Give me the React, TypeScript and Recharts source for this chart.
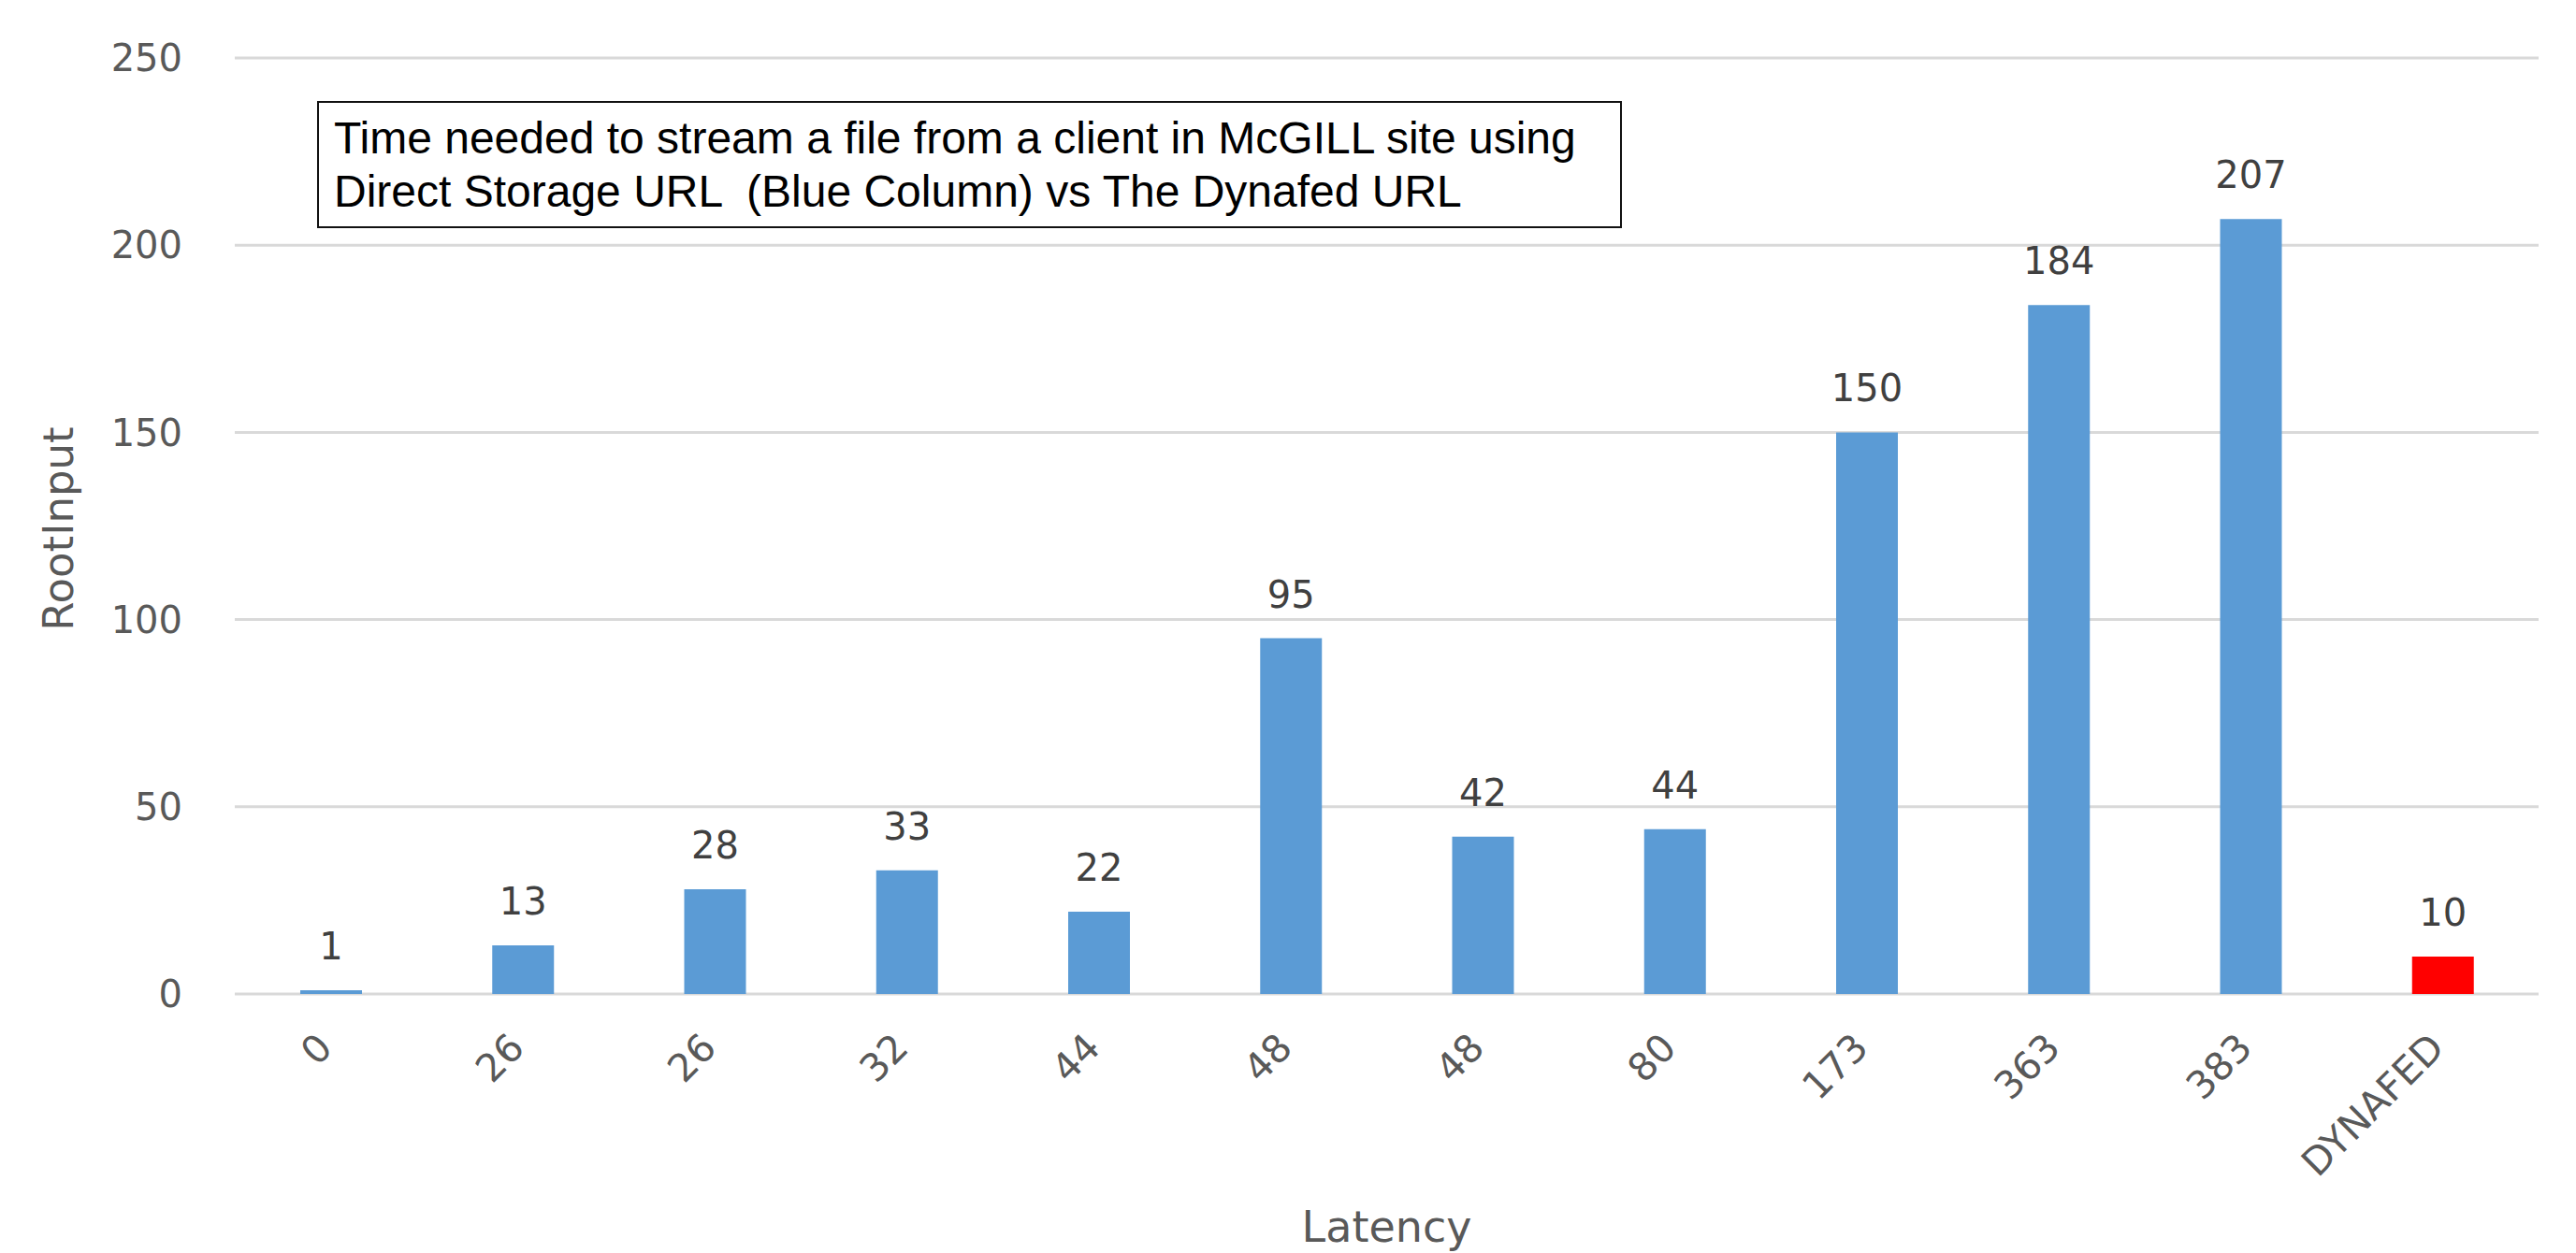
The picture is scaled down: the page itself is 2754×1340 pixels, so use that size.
import { BarChart, Bar, XAxis, YAxis, CartesianGrid, Cell, LabelList } from 'recharts';

// Latency categories (x axis) and the RootInput values measured for each
const LATENCIES = ['0', '26', '26', '32', '44', '48', '48', '80', '173', '363', '383', 'DYNAFED'];
const ROOT_INPUT = [1, 13, 28, 33, 22, 95, 42, 44, 150, 184, 207, 10];
const Y_TICKS = [0, 50, 100, 150, 200, 250];

const HIGHLIGHT = 'DYNAFED';
const TITLE_LINES = [
  'Time needed to stream a file from a client in McGILL site using',
  'Direct Storage URL  (Blue Column) vs The Dynafed URL',
];

const data = LATENCIES.map((latency, i) => ({ latency, value: ROOT_INPUT[i] }));

const FONT = '"DejaVu Sans", sans-serif';
const GREY = '#595959';
const BLUE = '#5B9BD5';
const RED = '#FF0000';

function LatencyTick({ x = 0, y = 0, payload }: { x?: number; y?: number; payload?: { value: string } }) {
  const ax = x - 6;
  const ay = y + 48;
  return (
    <text
      x={ax}
      y={ay}
      transform={`rotate(-45 ${ax} ${ay})`}
      textAnchor="end"
      dominantBaseline="central"
      fontFamily={FONT}
      fontSize={41}
      fill={GREY}
    >
      {payload?.value}
    </text>
  );
}

function XTitle({ viewBox }: { viewBox?: { x: number; y: number; width: number } }) {
  if (!viewBox) return null;
  return (
    <text x={viewBox.x + viewBox.width / 2} y={viewBox.y + 265} textAnchor="middle" fontFamily={FONT} fontSize={46} fill={GREY}>
      Latency
    </text>
  );
}

function YTitle({ viewBox }: { viewBox?: { x: number; y: number; height: number } }) {
  if (!viewBox) return null;
  const cx = viewBox.x + 78;
  const cy = viewBox.y + viewBox.height / 2 + 3;
  return (
    <text x={cx} y={cy} transform={`rotate(-90 ${cx} ${cy})`} textAnchor="middle" fontFamily={FONT} fontSize={45} fill={GREY}>
      RootInput
    </text>
  );
}

export default function App() {
  return (
    <div style={{ position: 'fixed', left: 0, top: 0, width: 2754, height: 1340, background: '#fff' }}>
      <BarChart width={2754} height={1340} data={data} margin={{ top: 62, right: 40, bottom: 0, left: 0 }}>
        <CartesianGrid vertical={false} stroke="#d9d9d9" strokeWidth={3} />
        <XAxis
          dataKey="latency"
          interval={0}
          height={277}
          axisLine={false}
          tickLine={false}
          tickSize={0}
          tick={<LatencyTick />}
          label={<XTitle />}
        />
        <YAxis
          type="number"
          domain={[0, 250]}
          ticks={Y_TICKS}
          width={251}
          axisLine={false}
          tickLine={false}
          tickSize={0}
          tickMargin={56}
          tick={{ fontFamily: FONT, fontSize: 40, fill: GREY }}
          label={<YTitle />}
        />
        <Bar dataKey="value" barSize={66} isAnimationActive={false}>
          {data.map((d, i) => (
            <Cell key={i} fill={d.latency === HIGHLIGHT ? RED : BLUE} />
          ))}
          <LabelList dataKey="value" position="top" offset={33} fontFamily={FONT} fontSize={40} fill="#404040" />
        </Bar>
      </BarChart>

      {/* annotation box over the chart */}
      <div
        style={{
          position: 'absolute',
          left: 339,
          top: 108,
          width: 1395,
          height: 136,
          boxSizing: 'border-box',
          border: '2px solid #111',
          background: '#fff',
          padding: '9px 0 0 16px',
          fontFamily: '"Liberation Sans", Arial, sans-serif',
          fontSize: 48,
          lineHeight: '57px',
          color: '#000',
          whiteSpace: 'pre',
        }}
      >
        {TITLE_LINES.map(line => (
          <div key={line}>{line}</div>
        ))}
      </div>
    </div>
  );
}
